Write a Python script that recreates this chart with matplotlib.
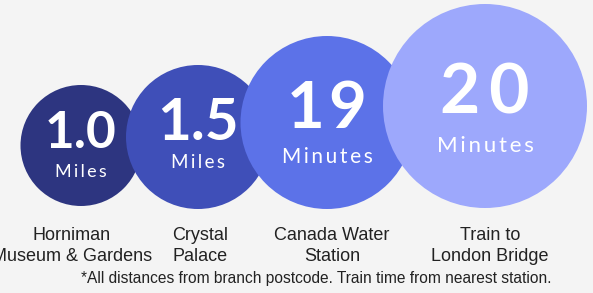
import matplotlib.pyplot as plt
from matplotlib.patches import Circle

# chart data
values = ["1.0", "1.5", "1\u200a9", "2\u20090"]
units = ["Miles", "Miles", "Minutes", "Minutes"]
places = ["Horniman\nMuseum & Gardens", "Crystal\nPalace", "Canada Water\nStation", "Train to\nLondon Bridge"]
note = "*All distances from branch postcode. Train time from nearest station."

# layout (pixels, y down)
cx = [81, 198, 327, 485]
cy = [145.5, 137, 122.5, 106]
rad = [60.5, 72, 86.5, 102]
colors = ["#2D3580", "#3F4FB8", "#5C72E8", "#9DA8FC"]
num_size = [37, 42, 47, 50]
num_y = [133, 123, 109, 94]
unit_size = [13, 13.5, 15, 16]
unit_y = [172, 163, 157, 146]
label_x = [72, 200, 332, 490]

fig = plt.figure(figsize=(5.93, 2.93), dpi=100)
fig.patch.set_facecolor("#F4F4F4")
ax = fig.add_axes([0, 0, 1, 1])
ax.set_xlim(0, 593)
ax.set_ylim(293, 0)
ax.set_aspect("equal")
ax.axis("off")

for i in range(len(values)):
    ax.add_patch(Circle((cx[i], cy[i]), rad[i], color=colors[i], zorder=i + 1, lw=0))
    ax.text(cx[i], num_y[i], values[i], color="white", fontsize=num_size[i],
            fontweight="bold", family=["Lato", "DejaVu Sans"], ha="center", va="center", zorder=10)
    spaced = "\u2009".join(units[i])
    ax.text(cx[i], unit_y[i], spaced, color="white", fontsize=unit_size[i],
            family=["Lato", "DejaVu Sans"], ha="center", va="center", zorder=10)
    ax.text(label_x[i], 246, places[i], color="#222222", fontsize=13,
            family="Liberation Sans", ha="center", va="center", linespacing=1.35, zorder=10)

ax.text(316, 279, note, color="#222222", fontsize=11.2, family="Liberation Sans",
        ha="center", va="center")

fig.savefig("out.png", dpi=100, facecolor=fig.get_facecolor())
